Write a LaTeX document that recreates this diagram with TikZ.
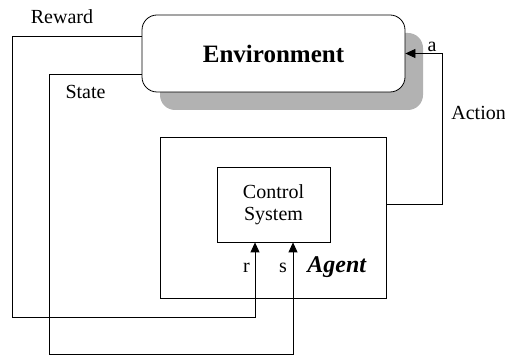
\documentclass[tikz,border=0pt]{standalone}
\usepackage{fontspec}
\setmainfont{Liberation Serif}
\usepackage{tikz}
\usetikzlibrary{arrows.meta, positioning, shadows}

\begin{document}
\begin{tikzpicture}[x=1pt, y=1pt, line width=0.8pt,
    box/.style={draw, rectangle, inner sep=0pt},
    arr/.style={-{Triangle[length=10pt,width=9pt]}},
    lbl/.style={anchor=base, inner sep=0pt, font=\fontsize{20}{24}\selectfont}]
\useasboundingbox (0,0) rectangle (505,355);
\node[box, fill=white, rounded corners=15pt, minimum width=263pt, minimum height=77pt,
      drop shadow={shadow xshift=18pt, shadow yshift=-18pt, fill=gray!60, opacity=1},
      font=\fontsize{25}{30}\selectfont\bfseries] (env) at (273.5,301.5) {Environment};
\node[box, minimum width=226pt, minimum height=161pt] (agent) at (273,137.5) {};
\node[box, minimum width=113pt, minimum height=75pt, align=center,
      font=\fontsize{20}{22}\selectfont] (ctrl) at (273.5,150.5) {Control\\System};
\draw[arr] ([yshift=17.5pt]env.west) -- (12,319) -- (12,38) -| ([xshift=-18.5pt]ctrl.south);
\draw[arr] ([yshift=-20.5pt]env.west) -- (49,281) -- (49,1) -| ([xshift=19.5pt]ctrl.south);
\draw[arr] ([yshift=13.5pt]agent.east) -- (442,151) |- (env.east);
\node[lbl] (rewardlbl) at (62,331) {Reward};
\node[lbl] (statelbl) at (85.5,256) {State};
\node[lbl] (alabel) at (432,303) {a};
\node[lbl, anchor=base west] (actionlbl) at (451,235) {Action};
\node[lbl] (rlbl) at (246.5,82) {r};
\node[lbl] (slbl) at (283,82) {s};
\node[lbl, anchor=base west, font=\fontsize{24}{28}\selectfont\bfseries\itshape] (agentlbl) at (307,82) {Agent};
\end{tikzpicture}
\end{document}
